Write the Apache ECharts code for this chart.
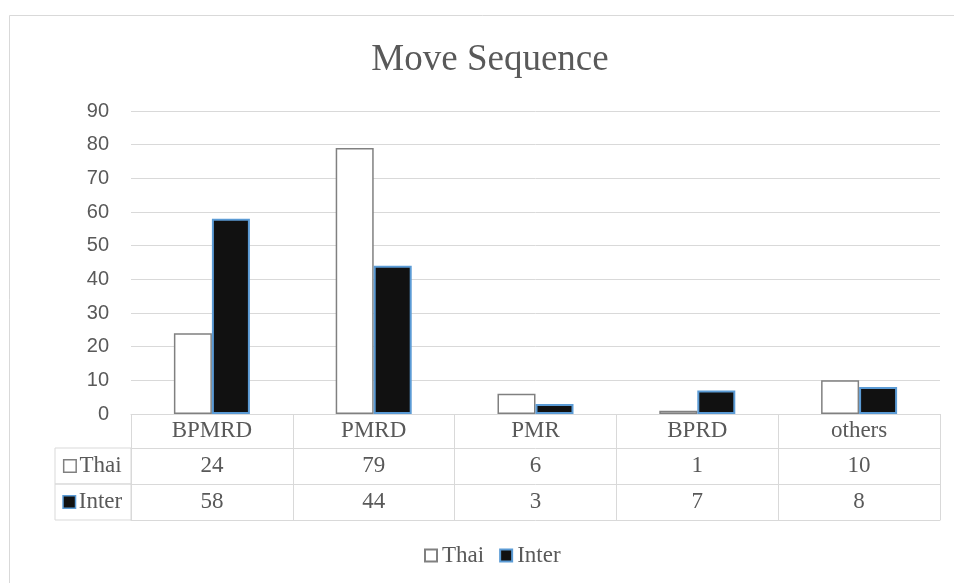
<!DOCTYPE html>
<html>
<head>
<meta charset="utf-8">
<title>Move Sequence</title>
<script src="https://cdn.jsdelivr.net/npm/echarts@6/dist/echarts.min.js"></script>
<style>
  html, body { margin: 0; padding: 0; background: #ffffff; }
  #chart { width: 954px; height: 583px; }
</style>
</head>
<body>
<div id="chart"></div>
<script>
// Move sequence counts per group
const categories = ['BPMRD', 'PMRD', 'PMR', 'BPRD', 'others'];
const thaiValues = [24, 79, 6, 1, 10];
const interValues = [58, 44, 3, 7, 8];
const seriesNames = ['Thai', 'Inter'];
const yTicks = { min: 0, max: 90, step: 10 };

const SERIF = "'Liberation Serif', 'Times New Roman', serif";
const SANS = "'Liberation Sans', Arial, sans-serif";
const TEXT = '#595959';
const RULE = '#d9d9d9';

const thaiStyle = { color: '#ffffff', borderColor: '#808080', borderWidth: 1.5 };
const interStyle = { color: '#111111', borderColor: '#5b9bd5', borderWidth: 2 };

// Legend key inside a data-table row header
function rowHeader(name) {
  return '{k' + name + '|}{t|' + name + '}';
}

const rowHeaderStyle = {
  fontFamily: SERIF,
  fontSize: 23,
  color: TEXT,
  align: 'center',
  verticalAlign: 'top',
  height: 36,
  lineHeight: 36,
  borderColor: RULE,
  borderWidth: 1,
  rich: {
    kThai: { width: 11, height: 11, backgroundColor: thaiStyle.color, borderColor: thaiStyle.borderColor, borderWidth: 1.5 },
    kInter: { width: 11, height: 11, backgroundColor: interStyle.color, borderColor: interStyle.borderColor, borderWidth: 1.5 },
    t: { fontFamily: SERIF, fontSize: 23, color: TEXT, lineHeight: 36, padding: [0, 0, 0, 4] }
  }
};

function tableAxis(offset, tickLen, values, name) {
  return {
    type: 'category',
    data: categories,
    position: 'bottom',
    offset: offset,
    boundaryGap: true,
    axisLine: { show: true, lineStyle: { color: RULE, width: 1 } },
    axisTick: { show: tickLen > 0, length: tickLen, interval: 0, lineStyle: { color: RULE, width: 1 } },
    axisLabel: values ? {
      show: true,
      interval: 0,
      margin: 18,
      verticalAlign: 'middle',
      fontFamily: SERIF,
      fontSize: 23,
      color: TEXT,
      formatter: function (v, i) { return String(values[i]); }
    } : { show: false },
    splitLine: { show: false },
    name: name ? rowHeader(name) : '',
    nameLocation: 'start',
    nameGap: 38,
    nameMoveOverlap: false,
    nameTruncate: { maxWidth: 76 },
    nameTextStyle: rowHeaderStyle,
    silent: true
  };
}

const chart = echarts.init(document.getElementById('chart'), null, { renderer: 'canvas' });

chart.setOption({
  backgroundColor: '#ffffff',
  animation: false,
  title: {
    text: 'Move Sequence',
    left: 485,
    top: 37,
    textAlign: 'center',
    textStyle: { fontFamily: SERIF, fontSize: 37, fontWeight: 'normal', color: TEXT }
  },
  graphic: [{
    type: 'rect',
    silent: true,
    z: -10,
    shape: { x: 9.5, y: 15.5, width: 1000, height: 1000 },
    style: { fill: 'none', stroke: RULE, lineWidth: 1 }
  }],
  legend: {
    data: seriesNames,
    left: 419,
    top: 539,
    itemWidth: 12,
    itemHeight: 12,
    itemGap: 15,
    icon: 'rect',
    textStyle: { fontFamily: SERIF, fontSize: 23, color: TEXT }
  },
  grid: {
    left: 131,
    right: 14,
    top: 111,
    bottom: 169,
    containLabel: false,
    outerBoundsMode: 'none'
  },
  xAxis: [
    {
      type: 'category',
      data: categories,
      position: 'bottom',
      boundaryGap: true,
      axisLine: { show: true, lineStyle: { color: RULE, width: 1 } },
      axisTick: { show: true, length: 34, interval: 0, lineStyle: { color: RULE, width: 1 } },
      axisLabel: {
        interval: 0,
        margin: 17,
        verticalAlign: 'middle',
        fontFamily: SERIF,
        fontSize: 23,
        color: TEXT
      },
      splitLine: { show: false }
    },
    tableAxis(34, 36, thaiValues, 'Thai'),
    tableAxis(70, 36, interValues, 'Inter'),
    tableAxis(106, 0, null, null)
  ],
  yAxis: {
    type: 'value',
    min: yTicks.min,
    max: yTicks.max,
    interval: yTicks.step,
    axisLine: { show: false },
    axisTick: { show: false },
    axisLabel: { margin: 22, fontFamily: SANS, fontSize: 20, color: TEXT },
    splitLine: { show: true, lineStyle: { color: RULE, width: 1 } }
  },
  series: [
    {
      name: seriesNames[0],
      type: 'bar',
      xAxisIndex: 0,
      data: thaiValues,
      barWidth: 38,
      barGap: '0%',
      itemStyle: thaiStyle
    },
    {
      name: seriesNames[1],
      type: 'bar',
      xAxisIndex: 0,
      data: interValues,
      barWidth: 38,
      barGap: '0%',
      itemStyle: interStyle
    }
  ]
});
</script>
</body>
</html>
